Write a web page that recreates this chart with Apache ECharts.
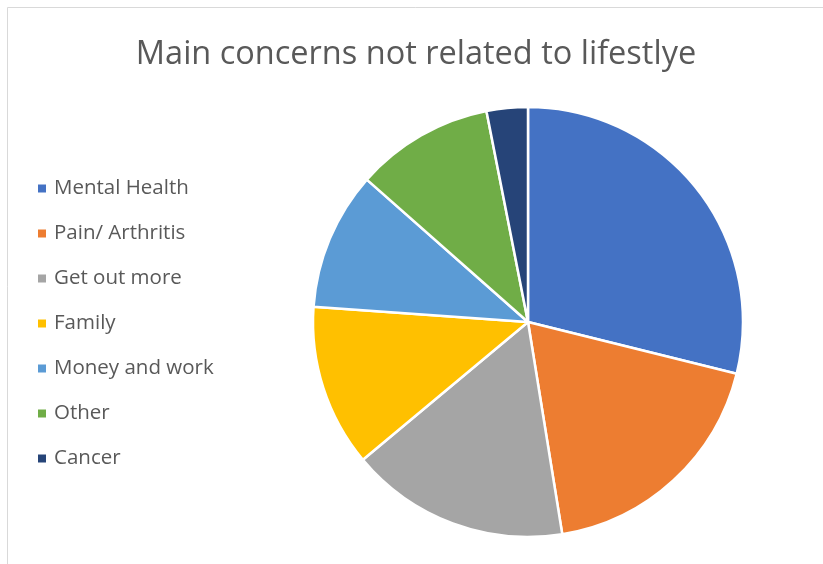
<!DOCTYPE html>
<html>
<head>
<meta charset="utf-8">
<style>
  html, body { margin: 0; padding: 0; background: #ffffff; }
  #chart { width: 823px; height: 564px; }
</style>
<script src="https://cdn.jsdelivr.net/npm/echarts@6/dist/echarts.min.js"></script>
</head>
<body>
<div id="chart"></div>
<script>
// Share of responses per concern (percent)
const categories = ['Mental Health', 'Pain/ Arthritis', 'Get out more', 'Family', 'Money and work', 'Other', 'Cancer'];
const values = [28.9, 18.6, 16.5, 12.2, 10.4, 10.4, 3.1];
const colors = ['#4472C4', '#ED7D31', '#A5A5A5', '#FFC000', '#5B9BD5', '#70AD47', '#264478'];
const titleText = 'Main concerns not related to lifestlye';

const chart = echarts.init(document.getElementById('chart'), null, { renderer: 'canvas' });

chart.setOption({
  animation: false,
  backgroundColor: '#ffffff',
  color: colors,
  graphic: [{
    type: 'rect',
    silent: true,
    shape: { x: 7.5, y: 7.5, width: 840, height: 580 },
    style: { fill: 'none', stroke: '#d9d9d9', lineWidth: 1 }
  }],
  title: {
    text: titleText,
    left: 416,
    top: 38,
    padding: 0,
    textAlign: 'center',
    textStyle: {
      fontFamily: 'Open Sans',
      fontWeight: 'normal',
      fontSize: 32.5,
      color: '#595959'
    }
  },
  legend: {
    orient: 'vertical',
    left: 38,
    top: 178,
    padding: 0,
    icon: 'rect',
    itemWidth: 8,
    itemHeight: 8,
    itemGap: 24,
    selectedMode: false,
    itemStyle: { borderWidth: 0 },
    data: categories,
    textStyle: {
      fontFamily: 'Open Sans',
      fontSize: 20.5,
      lineHeight: 21,
      color: '#595959',
      padding: [0, 0, 0, 3]
    }
  },
  series: [{
    type: 'pie',
    center: [528, 322],
    radius: [0, 215],
    startAngle: 90,
    clockwise: true,
    label: { show: false },
    labelLine: { show: false },
    emphasis: { disabled: true },
    itemStyle: { borderColor: '#ffffff', borderWidth: 2.5 },
    data: categories.map((name, i) => ({ name: name, value: values[i] }))
  }]
});
</script>
</body>
</html>
